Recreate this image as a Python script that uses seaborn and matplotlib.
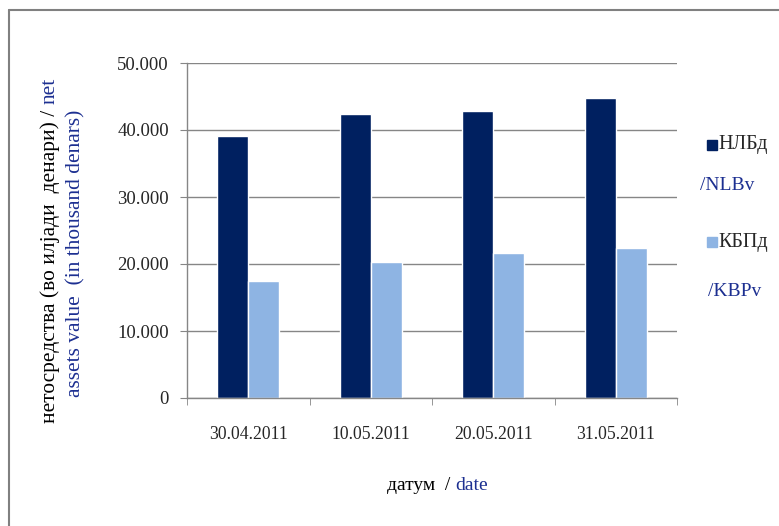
import matplotlib
matplotlib.use("Agg")
import matplotlib.pyplot as plt
from matplotlib.lines import Line2D
from matplotlib.patches import Rectangle
from matplotlib.ticker import FuncFormatter, FixedLocator
import seaborn as sns
import pandas as pd

# data (thousand denars)
dates = ["30.04.2011", "10.05.2011", "20.05.2011", "31.05.2011"]
nlb_values = [39100, 42400, 42900, 44800]
kbp_values = [17400, 20300, 21700, 22400]
series = ["НЛБд", "КБПд"]

dark = "#002060"
light = "#8eb4e3"
blue_txt = "#1c2f91"
grey = "#868686"

df = pd.DataFrame({
    "date": dates * 2,
    "value": nlb_values + kbp_values,
    "fund": [series[0]] * 4 + [series[1]] * 4,
})

sns.set_style("white")
plt.rcParams["font.family"] = ["Liberation Serif", "DejaVu Serif"]

fig = plt.figure(figsize=(7.79, 5.26), dpi=100)
ax = fig.add_axes([187 / 779, 1 - 398 / 526, 490 / 779, 335 / 526])

sns.barplot(data=df, x="date", y="value", hue="fund", order=dates,
            hue_order=series, palette=[dark, light], width=0.51,
            saturation=1, legend=False, ax=ax)

ax.set_ylim(0, 50000)
ax.set_xlim(-0.5, 3.5)
ax.set_yticks(range(0, 50001, 10000))
ax.yaxis.set_major_formatter(FuncFormatter(lambda v, p: f"{int(v):,}".replace(",", ".")))
ax.yaxis.grid(True, color=grey, linewidth=1)
ax.set_axisbelow(True)

for s in ["top", "right"]:
    ax.spines[s].set_visible(False)
for s in ["left", "bottom"]:
    ax.spines[s].set_color(grey)
    ax.spines[s].set_linewidth(1)

ax.tick_params(axis="y", length=5, color=grey, pad=8, labelsize=13.5, direction="out", left=True)
ax.tick_params(axis="x", which="major", length=0, pad=20, labelsize=12.7)
ax.xaxis.set_minor_locator(FixedLocator([-0.5, 0.5, 1.5, 2.5, 3.5]))
ax.tick_params(axis="x", which="minor", length=5, color=grey, direction="out", bottom=True)
ax.set_xlabel("")
ax.set_ylabel("")

# outer frame (top and left edges visible)
fig.add_artist(Line2D([8.5 / 779, 8.5 / 779], [0, 1 - 10 / 526], color="#808080", lw=1.5))
fig.add_artist(Line2D([8.5 / 779, 1], [1 - 10 / 526, 1 - 10 / 526], color="#808080", lw=1.5))

fig.canvas.draw()
r = fig.canvas.get_renderer()
W, H = 779, 526


def place_parts(parts, x, y, size, rotation=0):
    # draws text pieces one after another, starting at (x, y) pixels from top-left
    for txt, col in parts:
        if rotation == 0:
            t = fig.text(x / W, 1 - y / H, txt, color=col, fontsize=size,
                         ha="left", va="center")
            bb = t.get_window_extent(renderer=r)
            x += bb.width
        else:
            t = fig.text(x / W, 1 - y / H, txt, color=col, fontsize=size,
                         rotation=90, ha="center", va="bottom")
            bb = t.get_window_extent(renderer=r)
            y -= bb.height


# x axis title
place_parts([("датум  / ", "black"), ("date", blue_txt)], 387, 486, 14)

# y axis title, two rotated lines
place_parts([("нетосредства (во илјади  денари) / ", "black"), ("net", blue_txt)], 50, 423, 15.4, rotation=90)
place_parts([("assets value  (in thousand denars)", blue_txt)], 76, 397, 15.4, rotation=90)

# legend drawn by hand
for label, col, y in [(series[0], dark, 145), (series[1], light, 242)]:
    fig.add_artist(Rectangle((707 / W, 1 - (y + 5) / H), 10 / W, 10 / H,
                             transform=fig.transFigure, color=col))
    fig.text(718 / W, 1 - y / H, label, fontsize=14.5, ha="left", va="center")
fig.text(700 / W, 1 - 185 / H, "/NLBv", fontsize=14, color=blue_txt, ha="left", va="center")
fig.text(708 / W, 1 - 292 / H, "/KBPv", fontsize=14, color=blue_txt, ha="left", va="center")

fig.savefig("out.png", dpi=100)
